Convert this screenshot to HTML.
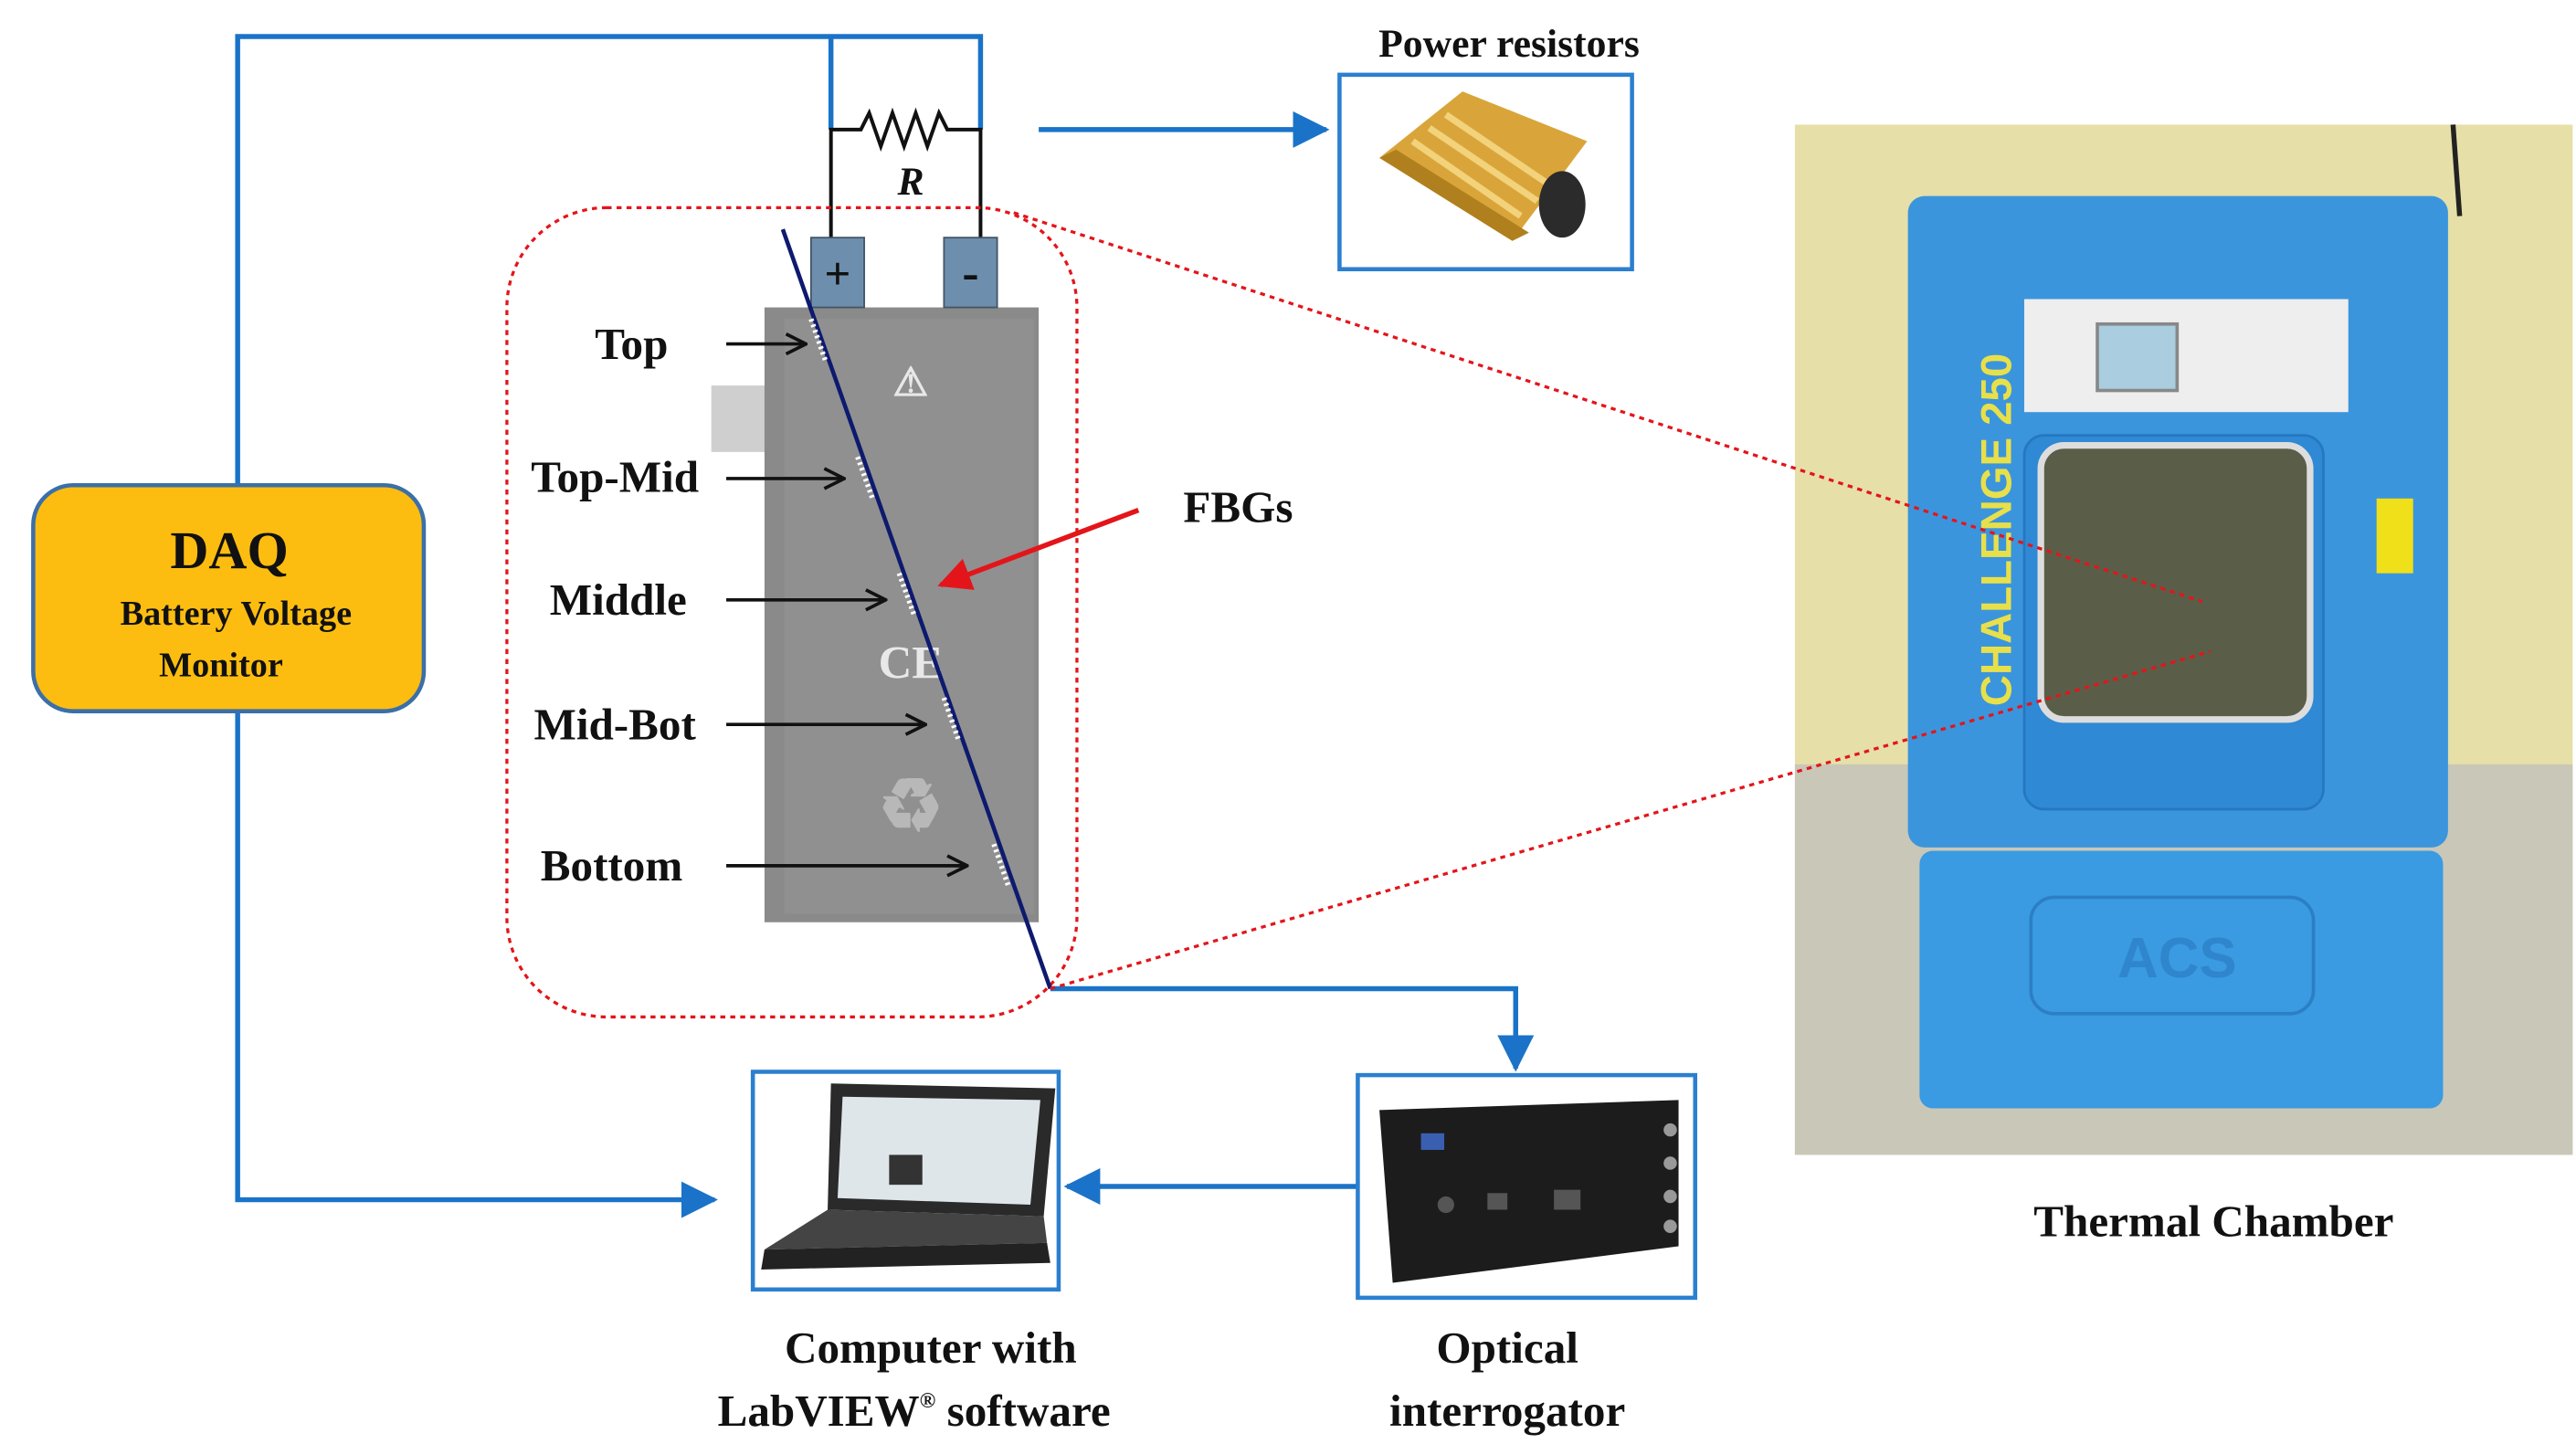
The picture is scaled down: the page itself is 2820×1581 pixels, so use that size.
<!DOCTYPE html>
<html><head><meta charset="utf-8"><style>
html,body{margin:0;padding:0;background:#fff;}
svg{display:block;}
text{font-family:"Liberation Serif",serif;font-weight:bold;fill:#111;}
</style></head><body>
<svg width="2820" height="1581" viewBox="0 0 1550 869" preserveAspectRatio="none" xmlns="http://www.w3.org/2000/svg">
<defs>
<marker id="ab" markerWidth="8" markerHeight="8" refX="7" refY="4" orient="auto" markerUnits="userSpaceOnUse"><path d="M0,0 L8,4 L0,8 Z" fill="#1a73c8"/></marker>
<marker id="abig" markerWidth="22" markerHeight="22" refX="20" refY="11" orient="auto" markerUnits="userSpaceOnUse"><path d="M0,0 L22,11 L0,22 Z" fill="#1a73c8"/></marker>
<marker id="ak" markerWidth="14" markerHeight="14" refX="13" refY="7" orient="auto" markerUnits="userSpaceOnUse"><path d="M1,1 L13,7 L1,13" fill="none" stroke="#111" stroke-width="2"/></marker>
<marker id="ar" markerWidth="20" markerHeight="20" refX="18" refY="10" orient="auto" markerUnits="userSpaceOnUse"><path d="M0,0 L20,10 L0,20 Z" fill="#e3151a"/></marker>
</defs>

<!-- Blue wiring -->
<g fill="none" stroke="#1a73c8" stroke-width="3">
<polyline points="143,292 143,22 590,22 590,78"/>
<line x1="500" y1="22" x2="500" y2="78"/>
<polyline points="143,428 143,722 430,722" marker-end="url(#abig)"/>
<line x1="625" y1="78" x2="798" y2="78" marker-end="url(#abig)"/>
<polyline points="632,595 912,595 912,643" marker-end="url(#abig)"/>
<line x1="817" y1="714" x2="642" y2="714" marker-end="url(#abig)"/>
</g>

<!-- Resistor -->
<g fill="none" stroke="#111" stroke-width="2.2">
<polyline points="500,145 500,78 518,78 523,68 530,88 537,68 544,88 551,68 558,88 565,68 570,78 590,78 590,145"/>
</g>
<text x="548" y="117" font-size="24" font-style="italic" font-weight="normal" text-anchor="middle">R</text>

<!-- DAQ -->
<rect x="20" y="292" width="235" height="136" rx="24" fill="#fdbd10" stroke="#3b6fa8" stroke-width="2.5"/>
<text x="138" y="342" font-size="32" text-anchor="middle">DAQ</text>
<text x="142" y="376" font-size="21" text-anchor="middle">Battery Voltage</text>
<text x="133" y="407" font-size="21" text-anchor="middle">Monitor</text>

<!-- Power resistor -->
<text x="908" y="34" font-size="24" text-anchor="middle">Power resistors</text>
<rect x="806" y="45" width="176" height="117" fill="#fff" stroke="#2b7fd0" stroke-width="2.5"/>
<g transform="translate(820,55)">
<path d="M10,40 L60,0 L135,30 L90,90 Z" fill="#d9a53a"/>
<path d="M10,40 L90,90 L100,85 L20,35 Z" fill="#b0801e"/>
<path d="M30,30 L95,75 M40,22 L105,66 M50,14 L115,58" stroke="#f2d27a" stroke-width="4"/>
<ellipse cx="120" cy="68" rx="14" ry="20" fill="#2b2b2b"/>
</g>

<!-- Dotted rounded rect -->
<rect x="305" y="125" width="343" height="487" rx="60" fill="none" stroke="#e3151a" stroke-width="1.8" stroke-dasharray="3,3"/>

<!-- Battery -->
<rect x="428" y="232" width="50" height="40" fill="#cfcfcf"/>
<rect x="460" y="185" width="165" height="370" fill="#8a8a8a"/>
<rect x="472" y="192" width="150" height="358" fill="#909090"/>
<g fill="#d8d8d8" font-size="8" font-weight="normal">
<text x="548" y="238" font-size="24" text-anchor="middle" fill="#e8e8e8" style="fill:#e8e8e8">⚠</text>
<text x="548" y="408" font-size="28" text-anchor="middle" style="fill:#e8e8e8">CE</text>
<text x="548" y="500" font-size="44" text-anchor="middle" style="fill:#b8b8b8">♻</text>
</g>
<rect x="488" y="143" width="32" height="42" fill="#6d8fad" stroke="#456" stroke-width="1"/>
<rect x="568" y="143" width="32" height="42" fill="#6d8fad" stroke="#456" stroke-width="1"/>
<text x="504" y="174" font-size="28" text-anchor="middle" font-weight="normal">+</text>
<text x="584" y="174" font-size="30" text-anchor="middle">-</text>

<!-- Fiber -->
<line x1="471" y1="138" x2="632" y2="595" stroke="#0d1a6e" stroke-width="2.5"/>
<g stroke="#fff" stroke-width="3" stroke-dasharray="1.5,2">
<line x1="488" y1="192" x2="497" y2="218"/>
<line x1="516" y1="275" x2="525" y2="300"/>
<line x1="541" y1="345" x2="550" y2="370"/>
<line x1="568" y1="420" x2="577" y2="446"/>
<line x1="598" y1="508" x2="607" y2="534"/>
</g>

<!-- Labels -->
<g font-size="27">
<text x="380" y="216" text-anchor="middle">Top</text>
<text x="370" y="296" text-anchor="middle">Top-Mid</text>
<text x="372" y="370" text-anchor="middle">Middle</text>
<text x="370" y="445" text-anchor="middle">Mid-Bot</text>
<text x="368" y="530" text-anchor="middle">Bottom</text>
<text x="745" y="314" text-anchor="middle">FBGs</text>
</g>
<g stroke="#111" stroke-width="2">
<line x1="437" y1="207" x2="485" y2="207" marker-end="url(#ak)"/>
<line x1="437" y1="288" x2="508" y2="288" marker-end="url(#ak)"/>
<line x1="437" y1="361" x2="533" y2="361" marker-end="url(#ak)"/>
<line x1="437" y1="436" x2="557" y2="436" marker-end="url(#ak)"/>
<line x1="437" y1="521" x2="582" y2="521" marker-end="url(#ak)"/>
</g>
<line x1="685" y1="307" x2="566" y2="352" stroke="#e3151a" stroke-width="3" marker-end="url(#ar)"/>

<!-- Photo -->
<rect x="1080" y="75" width="468" height="620" fill="#e6dfa8"/>
<rect x="1080" y="460" width="468" height="235" fill="#c9c7b8"/>
<line x1="1476" y1="75" x2="1480" y2="130" stroke="#222" stroke-width="3"/>
<rect x="1148" y="118" width="325" height="392" rx="10" fill="#3b95dc"/>
<rect x="1155" y="512" width="315" height="155" rx="8" fill="#3a9ae2"/>
<rect x="1222" y="540" width="170" height="70" rx="14" fill="none" stroke="#2c7fc4" stroke-width="2"/>
<text x="1310" y="588" font-size="34" font-family="Liberation Sans" text-anchor="middle" style="fill:#2f86cc;font-family:'Liberation Sans',sans-serif">ACS</text>
<rect x="1218" y="180" width="195" height="68" fill="#eeeeee"/>
<rect x="1262" y="195" width="48" height="40" fill="#aacde0" stroke="#888" stroke-width="2"/>
<rect x="1218" y="262" width="180" height="225" rx="12" fill="#2f89d4" stroke="#2578c0" stroke-width="1.5"/>
<rect x="1228" y="268" width="162" height="165" rx="14" fill="#5a5e48" stroke="#ddd" stroke-width="4"/>
<rect x="1430" y="300" width="22" height="45" fill="#f0e01a"/>
<text transform="translate(1210,425) rotate(-90)" font-size="26" font-family="Liberation Sans" style="fill:#e8e04a;font-family:'Liberation Sans',sans-serif">CHALLENGE 250</text>
<text x="1332" y="744" font-size="27" text-anchor="middle">Thermal Chamber</text>

<!-- red dotted lines to chamber -->
<g stroke="#e3151a" stroke-width="1.8" stroke-dasharray="3,3" fill="none">
<line x1="610" y1="128" x2="1325" y2="362"/>
<line x1="632" y1="595" x2="1330" y2="392"/>
</g>

<!-- Laptop -->
<rect x="453" y="645" width="184" height="131" fill="#fff" stroke="#2b7fd0" stroke-width="2.5"/>
<path d="M500,652 L635,655 L628,732 L498,728 Z" fill="#2a2a2a"/>
<path d="M507,660 L626,662 L620,725 L504,721 Z" fill="#dfe6ea"/>
<rect x="535" y="695" width="20" height="18" fill="#333"/>
<path d="M498,728 L628,732 L630,748 L460,752 Z" fill="#444"/>
<path d="M460,752 L630,748 L632,760 L458,764 Z" fill="#222"/>
<text x="560" y="820" font-size="27" text-anchor="middle">Computer with</text>
<text x="550" y="858" font-size="27" text-anchor="middle">LabVIEW<tspan font-size="13" dy="-11">®</tspan><tspan dy="11"> software</tspan></text>

<!-- Interrogator -->
<rect x="817" y="647" width="203" height="134" fill="#fff" stroke="#2b7fd0" stroke-width="2.5"/>
<path d="M830,668 L1010,662 L1010,750 L838,772 Z" fill="#1c1c1c"/>
<rect x="855" y="682" width="14" height="10" fill="#3a5fb0"/>
<g fill="#555"><circle cx="870" cy="725" r="5"/><rect x="895" y="718" width="12" height="10"/><rect x="935" y="716" width="16" height="12"/></g>
<g fill="#999"><circle cx="1005" cy="680" r="4"/><circle cx="1005" cy="700" r="4"/><circle cx="1005" cy="720" r="4"/><circle cx="1005" cy="738" r="4"/></g>
<text x="907" y="820" font-size="27" text-anchor="middle">Optical</text>
<text x="907" y="858" font-size="27" text-anchor="middle">interrogator</text>
</svg>
</body></html>
